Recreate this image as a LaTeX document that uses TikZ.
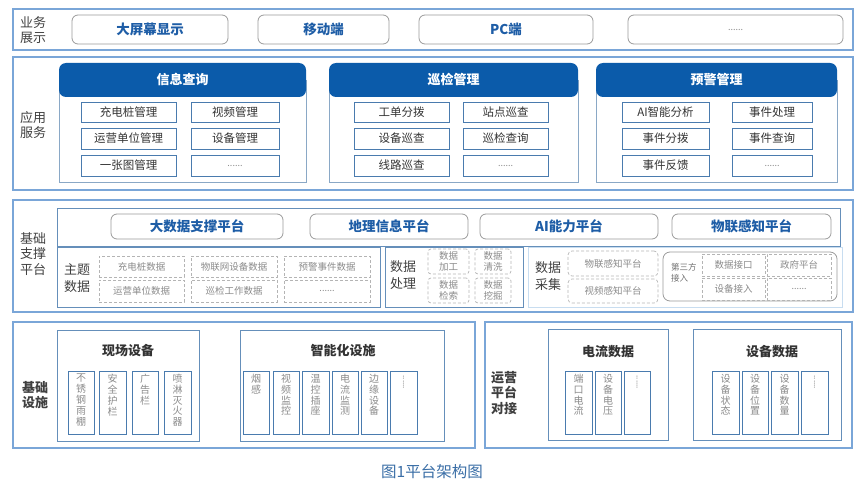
\documentclass[tikz,border=0pt]{standalone}
\usepackage{fontspec}
\setmainfont{Noto Sans CJK SC}
\definecolor{outerc}{HTML}{7AA6D8}
\definecolor{hdr}{HTML}{0B5BAA}
\definecolor{itemc}{HTML}{4A7BAE}
\definecolor{grpc}{HTML}{8AA8C6}
\definecolor{bluetxt}{HTML}{1E5DA6}
\definecolor{txt}{HTML}{333333}
\definecolor{labtxt}{HTML}{404040}
\definecolor{graytxt}{HTML}{8A8A8A}
\definecolor{graybd}{HTML}{9A9A9A}
\definecolor{dashc}{HTML}{B4B4B4}
\definecolor{capc}{HTML}{3A6EA6}
\definecolor{lightbd}{HTML}{C8DDF0}
\newcommand\bx[7]{\node[#1, minimum width={(#5-#3)*1pt}, minimum height={(#6-#4)*1pt}] (#2) at ({(#3+#5)/2},{(#4+#6)/2}) {#7};}
\newcommand\vbx[4]{\bx{vit}{#1}{#2}{371}{#3}{434}{}\node[vtx] (#1t) at ([yshift=-3.5pt]#1.north) {#4};}
\newcommand\vdt[3]{\bx{vit}{#1}{#2}{371}{#3}{434}{}\node[vtx, rotate=-90, anchor=west, font=\fontsize{8}{9}\selectfont] (#1t) at ([yshift=-5pt]#1.north) {......};}
\begin{document}
\begin{tikzpicture}[x=1pt,y=-1pt,
  outer/.style={draw=outerc, line width=2.2pt, inner sep=0},
  rowlab/.style={text=labtxt, font=\fontsize{13}{15.5}\selectfont, align=center, inner sep=0},
  pill/.style={draw=graybd, rounded corners=6pt, line width=0.8pt, inner sep=0, font=\bfseries\fontsize{13.5}{15}\selectfont, text=bluetxt},
  hdrbox/.style={fill=hdr, rounded corners=7pt, text=white, font=\bfseries\fontsize{13}{15}\selectfont, inner sep=0},
  grp/.style={draw=grpc, line width=0.8pt, inner sep=0},
  grpb/.style={draw=itemc!85, line width=0.9pt, inner sep=0},
  lightb/.style={draw=lightbd, line width=0.9pt, inner sep=0},
  itm/.style={draw=itemc, line width=0.9pt, inner sep=0, text=txt, font=\fontsize{11.5}{13}\selectfont},
  dotsf/.style={font=\fontsize{9}{10}\selectfont, text=graytxt},
  dbox/.style={draw=dashc, dash pattern=on 3pt off 2pt, line width=0.7pt, inner sep=0, text=graytxt, font=\fontsize{9.5}{10.5}\selectfont, align=center},
  sublab/.style={text=labtxt, font=\fontsize{13}{16.5}\selectfont, align=center, inner sep=0},
  tpbox/.style={draw=graybd, rounded corners=7pt, line width=0.8pt, inner sep=0},
  ttl/.style={text=txt, font=\bfseries\fontsize{13}{15}\selectfont, inner sep=0},
  vit/.style={draw=itemc, line width=1pt, inner sep=0},
  vtx/.style={anchor=north, inner sep=0, text=graytxt, font=\fontsize{10}{10.8}\selectfont, align=center}
]
\useasboundingbox (0,0) rectangle (861,484);

% ---------- Row 1 ----------
\bx{outer}{r1}{13}{9}{853}{50}{}
\node[rowlab] (l1) at (33,30) {业务\\展示};
\bx{pill}{p1}{72}{15}{228}{44}{大屏幕显示}
\bx{pill}{p2}{258}{15}{389}{44}{移动端}
\bx{pill}{p3}{419}{15}{593}{44}{PC端}
\bx{pill,dotsf}{p4}{628}{15}{843}{44}{......}

% ---------- Row 2 ----------
\bx{outer}{r2}{13}{57}{853}{190}{}
\node[rowlab] (l2) at (33,125) {应用\\服务};
% group 1
\bx{grp}{g1}{59}{80}{306}{182}{}
\bx{hdrbox}{h1}{59}{63}{306}{97}{信息查询}
\bx{itm}{a1}{81}{102}{176}{122}{充电桩管理}
\bx{itm}{a2}{191}{102}{279}{122}{视频管理}
\bx{itm}{a3}{81}{128}{176}{149}{运营单位管理}
\bx{itm}{a4}{191}{128}{279}{149}{设备管理}
\bx{itm}{a5}{81}{155}{176}{176}{一张图管理}
\bx{itm,dotsf}{a6}{191}{155}{279}{176}{......}
% group 2
\bx{grp}{g2}{329}{80}{578}{182}{}
\bx{hdrbox}{h2}{329}{63}{578}{97}{巡检管理}
\bx{itm}{b1}{354}{102}{449}{122}{工单分拨}
\bx{itm}{b2}{463}{102}{548}{122}{站点巡查}
\bx{itm}{b3}{354}{128}{449}{149}{设备巡查}
\bx{itm}{b4}{463}{128}{548}{149}{巡检查询}
\bx{itm}{b5}{354}{155}{449}{176}{线路巡查}
\bx{itm,dotsf}{b6}{463}{155}{548}{176}{......}
% group 3
\bx{grp}{g3}{596}{80}{837}{182}{}
\bx{hdrbox}{h3}{596}{63}{837}{97}{预警管理}
\bx{itm}{c1}{622}{102}{709}{122}{AI智能分析}
\bx{itm}{c2}{732}{102}{812}{122}{事件处理}
\bx{itm}{c3}{622}{128}{709}{149}{事件分拨}
\bx{itm}{c4}{732}{128}{812}{149}{事件查询}
\bx{itm}{c5}{622}{155}{709}{176}{事件反馈}
\bx{itm,dotsf}{c6}{732}{155}{812}{176}{......}

% ---------- Row 3 ----------
\bx{outer}{r3}{13}{200}{853}{312}{}
\node[rowlab] (l3) at (33,254) {基础\\支撑\\平台};
\bx{grpb}{pt}{57}{208}{840}{246}{}
\bx{pill}{q1}{111}{214}{283}{239}{大数据支撑平台}
\bx{pill}{q2}{310}{214}{468}{239}{地理信息平台}
\bx{pill}{q3}{480}{214}{658}{239}{AI能力平台}
\bx{pill}{q4}{672}{214}{831}{239}{物联感知平台}
% theme data
\bx{grpb}{zt}{57}{247}{380}{307}{}
\node[sublab] (ztl) at (77,278) {主题\\数据};
\bx{dbox}{d1}{99}{256}{184}{277}{充电桩数据}
\bx{dbox}{d2}{191}{256}{277}{277}{物联网设备数据}
\bx{dbox}{d3}{284}{256}{370}{277}{预警事件数据}
\bx{dbox}{d4}{99}{280}{184}{302}{运营单位数据}
\bx{dbox}{d5}{191}{280}{277}{302}{巡检工作数据}
\bx{dbox,dotsf}{d6}{284}{280}{370}{302}{......}
% processing
\bx{grpb}{cl}{385}{247}{523}{307}{}
\node[sublab, font=\fontsize{13}{17.5}\selectfont] (cll) at (403,275) {数据\\处理};
\bx{dbox,rounded corners=3pt,font=\fontsize{9.5}{10.5}\selectfont}{e1}{428}{249}{469}{274}{数据\\加工}
\bx{dbox,rounded corners=3pt,font=\fontsize{9.5}{10.5}\selectfont}{e2}{475}{249}{511}{274}{数据\\清洗}
\bx{dbox,rounded corners=3pt,font=\fontsize{9.5}{10.5}\selectfont}{e3}{428}{278}{469}{303}{数据\\检索}
\bx{dbox,rounded corners=3pt,font=\fontsize{9.5}{10.5}\selectfont}{e4}{475}{278}{511}{303}{数据\\挖掘}
% collection
\bx{lightb}{cj}{528}{247}{842}{307}{}
\node[sublab] (cjl) at (548,276) {数据\\采集};
\bx{dbox,rounded corners=4pt}{f1}{568}{251}{658}{276}{物联感知平台}
\bx{dbox,rounded corners=4pt}{f2}{568}{279}{658}{303}{视频感知平台}
\bx{tpbox}{tp}{663}{252}{837}{301}{}
\node[anchor=west, inner sep=0, align=left, text=graytxt!80!black, font=\fontsize{8.5}{10.5}\selectfont] (tpl) at (671,273) {第三方\\接入};
\bx{dbox}{t1}{702}{254}{765}{276}{数据接口}
\bx{dbox}{t2}{767}{254}{831}{276}{政府平台}
\bx{dbox}{t3}{702}{278}{765}{300}{设备接入}
\bx{dbox,dotsf}{t4}{767}{278}{831}{300}{......}

% ---------- Row 4 left ----------
\bx{outer}{r4a}{13}{322}{475}{448}{}
\node[rowlab, font=\bfseries\fontsize{13}{15.5}\selectfont] (l4) at (35,395) {基础\\设施};
\bx{grpb}{xc}{57}{330}{199}{441}{}
\node[ttl] (xct) at (128,351) {现场设备};
\vbx{v1}{68}{94}{不\\锈\\钢\\雨\\棚}
\vbx{v2}{99}{126}{安\\全\\护\\栏}
\vbx{v3}{132}{158}{广\\告\\栏}
\vbx{v4}{164}{191}{喷\\淋\\灭\\火\\器}
\bx{grpb}{zn}{240}{330}{444}{441}{}
\node[ttl] (znt) at (343,351) {智能化设施};
\vbx{w1}{243}{269}{烟\\感}
\vbx{w2}{273}{299}{视\\频\\监\\控}
\vbx{w3}{302}{329}{温\\控\\插\\座}
\vbx{w4}{332}{358}{电\\流\\监\\测}
\vbx{w5}{361}{387}{边\\缘\\设\\备}
\vdt{w6}{390}{417}

% ---------- Row 4 right ----------
\bx{outer}{r4b}{485}{322}{852}{448}{}
\node[rowlab, font=\bfseries\fontsize{13}{15.5}\selectfont] (l5) at (504,393) {运营\\平台\\对接};
\bx{grpb}{dl}{548}{329}{668}{440}{}
\node[ttl] (dlt) at (608,352) {电流数据};
\vbx{u1}{565}{592}{端\\口\\电\\流}
\vbx{u2}{595}{621}{设\\备\\电\\压}
\vdt{u3}{624}{650}
\bx{grpb}{sb}{693}{329}{841}{440}{}
\node[ttl] (sbt) at (772,352) {设备数据};
\vbx{s1}{712}{739}{设\\备\\状\\态}
\vbx{s2}{742}{768}{设\\备\\位\\置}
\vbx{s3}{771}{798}{设\\备\\数\\量}
\vdt{s4}{801}{828}

% ---------- caption ----------
\node[text=capc, font=\fontsize{15.5}{17}\selectfont, inner sep=0] (cap) at (432,472) {图1平台架构图};
\end{tikzpicture}
\end{document}
